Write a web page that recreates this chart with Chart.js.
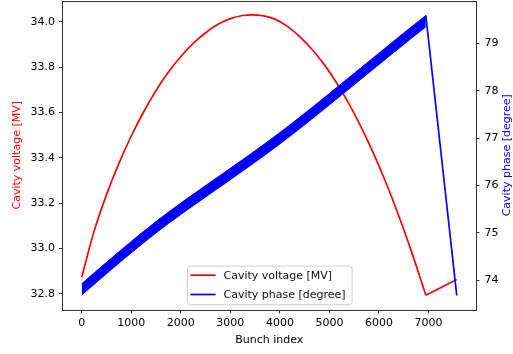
<!DOCTYPE html>
<html>
<head>
<meta charset="utf-8">
<script src="https://cdn.jsdelivr.net/npm/chart.js@4.4.1/dist/chart.umd.min.js"></script>
<style>
  html, body { margin: 0; padding: 0; background: #fff; }
  #wrap { width: 513px; height: 354px; }
</style>
</head>
<body>
<div id="wrap"><canvas id="chart" width="513" height="354"></canvas></div>
<script>
// cavity voltage [MV] along the bunch train
const voltX = [0, 250, 500, 750, 1000, 1250, 1500, 1750, 2000, 2250, 2500, 2750, 3000, 3250, 3450, 3650, 3900, 4150, 4400, 4650, 4900, 5150, 5400, 5650, 5900, 6150, 6400, 6650, 6946];
const voltage = [32.873, 33.076, 33.237, 33.375, 33.496, 33.603, 33.697, 33.778, 33.847, 33.905, 33.952, 33.989, 34.014, 34.028, 34.031, 34.027, 34.012, 33.980, 33.935, 33.878, 33.810, 33.729, 33.636, 33.531, 33.414, 33.285, 33.143, 32.990, 32.793];
// last bunch after the gap
const voltTailX = [6946, 7570];
const voltTail = [32.793, 32.862];

// cavity phase [degree], oscillates bunch to bunch -> band between high and low
const phaseX = [0, 500, 1000, 1500, 2000, 2500, 3000, 3500, 4000, 4500, 5000, 5500, 6000, 6500, 6946];
const phaseHigh = [73.93, 74.38, 74.82, 75.24, 75.63, 76.00, 76.365, 76.735, 77.12, 77.525, 77.945, 78.37, 78.795, 79.22, 79.59];
const phaseLow = [73.69, 74.14, 74.58, 75.00, 75.39, 75.76, 76.125, 76.495, 76.88, 77.285, 77.705, 78.13, 78.555, 78.98, 79.35];
const phaseTailX = [6946, 7570];
const phaseTail = [79.59, 73.68];

const xTicks = [0, 1000, 2000, 3000, 4000, 5000, 6000, 7000];
const voltTicks = [32.8, 33.0, 33.2, 33.4, 33.6, 33.8, 34.0];
const phaseTicks = [74, 75, 76, 77, 78, 79];

const voltLabel = 'Cavity voltage [MV]';
const phaseLabel = 'Cavity phase [degree]';

const RED = '#ff0000';
const BLUE = '#0000ff';
const FONT = 'DejaVu Sans';

Chart.defaults.font.family = FONT;
Chart.defaults.font.size = 11;
Chart.defaults.color = '#000';

function pts(xs, ys) {
  return xs.map((x, i) => ({ x: x, y: ys[i] }));
}

function fixedTicks(list) {
  return scale => { scale.ticks = list.map(v => ({ value: v })); };
}

// force axis box size and drop the label overhang padding
function fitTo(size) {
  return s => {
    if (s.isHorizontal()) { s.height = size; } else { s.width = size; }
    s.paddingTop = 0; s.paddingBottom = 0; s.paddingLeft = 0; s.paddingRight = 0;
  };
}

// frame, legend box and right axis title (matplotlib look)
const decor = {
  id: 'decor',
  afterDatasetsDraw(chart) {
    const { ctx, chartArea: a } = chart;
    ctx.save();
    ctx.strokeStyle = '#333';
    ctx.lineWidth = 1;
    ctx.strokeRect(Math.round(a.left) - 0.5, Math.round(a.top) + 0.5,
      Math.round(a.right) - Math.round(a.left) + 1, Math.round(a.bottom) - Math.round(a.top));

    // legend, lower center
    const items = chart.data.datasets
      .filter(d => d.legendRank !== undefined)
      .sort((p, q) => p.legendRank - q.legendRank);
    ctx.font = '11px "' + FONT + '"';
    const textW = Math.max(...items.map(d => ctx.measureText(d.label).width));
    const boxW = textW + 36.7 + 6;
    const boxH = 38.6;
    const bx = (a.left + a.right) / 2 - boxW / 2;
    const by = a.bottom - 5.3 - boxH;
    ctx.beginPath();
    ctx.roundRect(bx + 0.5, by + 0.5, boxW, boxH, 3);
    ctx.fillStyle = 'rgba(255,255,255,0.8)';
    ctx.fill();
    ctx.strokeStyle = '#d0d0d0';
    ctx.stroke();
    items.forEach((d, i) => {
      const yy = by + 9.6 + i * 19.3;
      ctx.beginPath();
      ctx.moveTo(bx + 3.5, yy);
      ctx.lineTo(bx + 28.7, yy);
      ctx.strokeStyle = d.borderColor;
      ctx.lineWidth = 1.7;
      ctx.stroke();
      ctx.fillStyle = '#111';
      ctx.textAlign = 'left';
      ctx.textBaseline = 'middle';
      ctx.fillText(d.label, bx + 36.7, yy + 0.5);
    });

    // right axis title reads bottom to top like the left one
    ctx.translate(506.7, (a.top + a.bottom) / 2);
    ctx.rotate(-Math.PI / 2);
    ctx.fillStyle = BLUE;
    ctx.textAlign = 'center';
    ctx.textBaseline = 'middle';
    ctx.fillText(phaseLabel, 0, 0);
    ctx.restore();
  }
};

new Chart(document.getElementById('chart').getContext('2d'), {
  type: 'line',
  data: {
    datasets: [
      {
        label: phaseLabel, legendRank: 1,
        data: pts(phaseX, phaseHigh), yAxisID: 'y1',
        borderColor: BLUE, backgroundColor: BLUE, borderWidth: 1,
        pointRadius: 0, tension: 0.4, fill: false,
      },
      {
        label: 'phase low',
        data: pts(phaseX, phaseLow), yAxisID: 'y1',
        borderColor: BLUE, backgroundColor: BLUE, borderWidth: 1,
        pointRadius: 0, tension: 0.4, fill: '-1',
      },
      {
        label: 'phase tail',
        data: pts(phaseTailX, phaseTail), yAxisID: 'y1',
        borderColor: BLUE, borderWidth: 1.7, pointRadius: 0, fill: false,
      },
      {
        label: voltLabel, legendRank: 0,
        data: pts(voltX, voltage), yAxisID: 'y',
        borderColor: RED, borderWidth: 1.7,
        pointRadius: 0, tension: 0.4, fill: false,
      },
      {
        label: 'voltage tail',
        data: pts(voltTailX, voltTail), yAxisID: 'y',
        borderColor: RED, borderWidth: 1.7, pointRadius: 0, fill: false,
      },
    ],
  },
  options: {
    responsive: false,
    animation: false,
    events: [],
    layout: { padding: { top: 1, left: 0, right: 0, bottom: 0 } },
    plugins: { legend: { display: false }, tooltip: { enabled: false } },
    scales: {
      x: {
        type: 'linear', min: -378.5, max: 7948.5,
        afterBuildTicks: fixedTicks(xTicks),
        afterFit: fitTo(44.5),
        border: { display: false },
        grid: { drawOnChartArea: false, tickLength: 4, tickColor: '#333' },
        ticks: { padding: 3, maxRotation: 0, callback: v => String(v) },
        title: { display: true, text: 'Bunch index', padding: { top: 0, bottom: 7.4 } },
      },
      y: {
        position: 'left', min: 32.73, max: 34.092,
        afterBuildTicks: fixedTicks(voltTicks),
        afterFit: fitTo(63),
        border: { display: false },
        grid: { drawOnChartArea: false, tickLength: 4, tickColor: '#333' },
        ticks: { padding: 4, callback: v => v.toFixed(1) },
        title: { display: true, text: voltLabel, color: RED, padding: { top: 10.4, bottom: 0 } },
      },
      y1: {
        position: 'right', min: 73.384, max: 79.896,
        afterBuildTicks: fixedTicks(phaseTicks),
        afterFit: fitTo(37.5),
        border: { display: false },
        grid: { drawOnChartArea: false, tickLength: 4, tickColor: '#333' },
        ticks: { padding: 5, callback: v => String(v) },
      },
    },
  },
  plugins: [decor],
});
</script>
</body>
</html>
